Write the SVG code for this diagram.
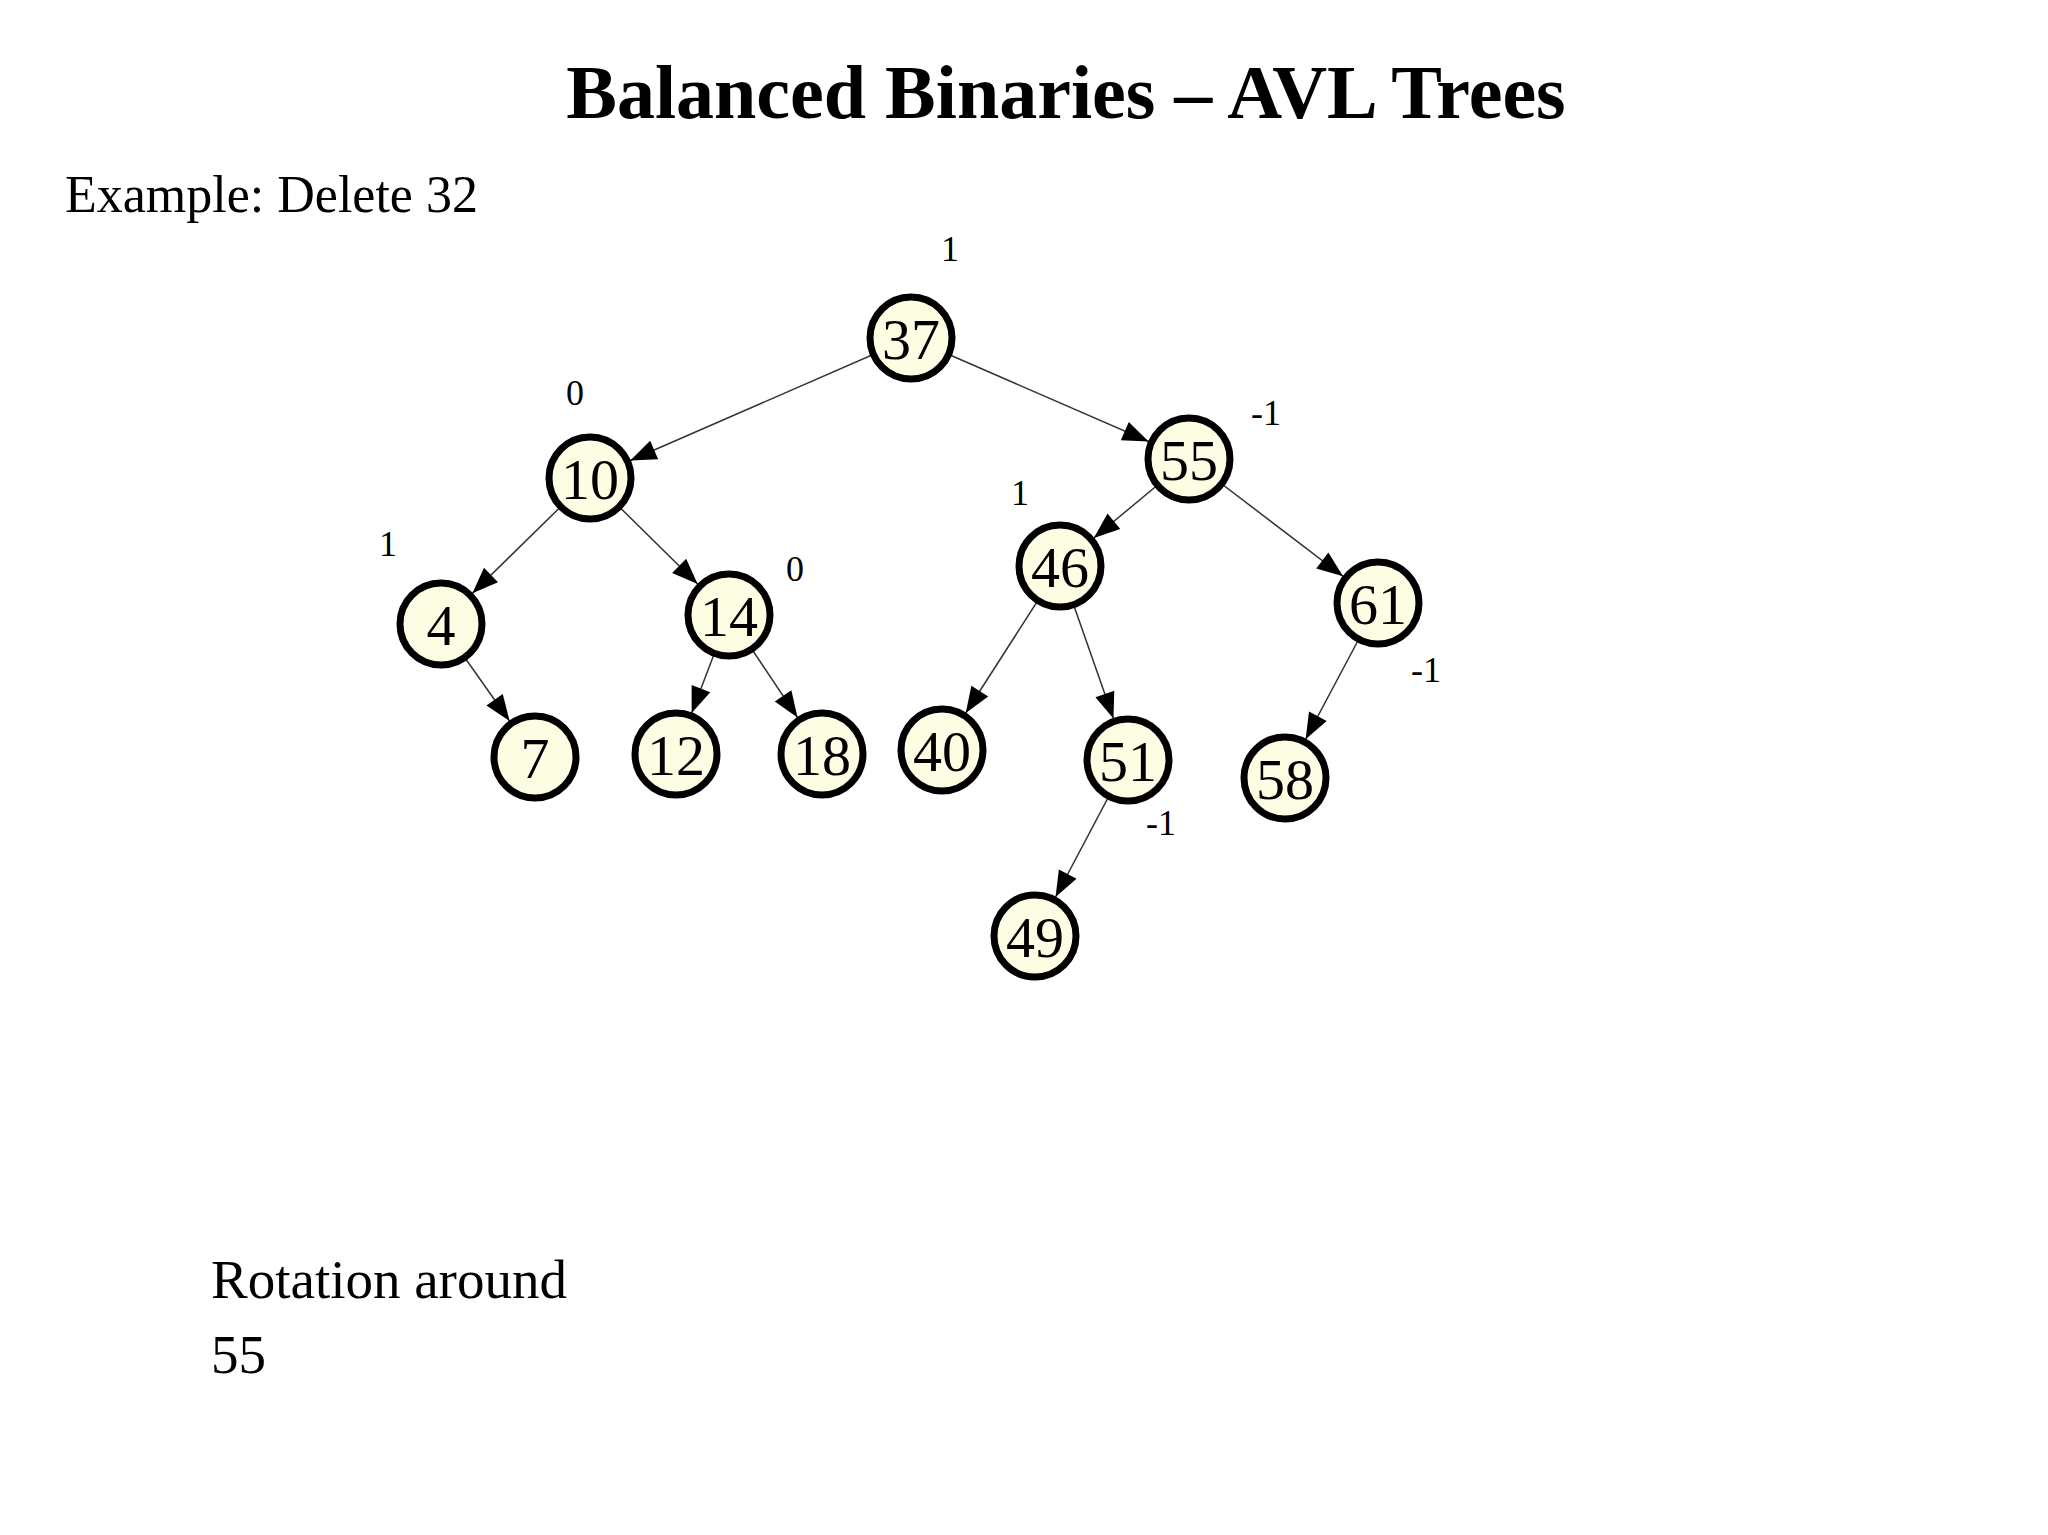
<svg xmlns="http://www.w3.org/2000/svg" width="2048" height="1535" viewBox="0 0 2048 1535">
<style>
text{font-family:"Liberation Serif","Times New Roman",serif;fill:#000}
.n circle{fill:#fdfde3;stroke:#000;stroke-width:7}
.n text{font-size:58px;text-anchor:middle}
.b{font-size:36px;text-anchor:middle}
#edges line{stroke:#333;stroke-width:1.5}
</style>
<defs>
<marker id="a" markerUnits="userSpaceOnUse" markerWidth="100" markerHeight="30" refX="70" refY="10" orient="auto" overflow="visible">
<path d="M0,0 L26,10 L0,20 z" fill="#000"/>
</marker>
</defs>
<rect width="2048" height="1535" fill="#fff"/>
<text x="1066" y="118" font-size="76" font-weight="bold" text-anchor="middle">Balanced Binaries – AVL Trees</text>
<text x="65" y="212" font-size="52">Example: Delete 32</text>
<text x="211" y="1298" font-size="55">Rotation around</text>
<text x="211" y="1373" font-size="55">55</text>
<g id="edges" marker-end="url(#a)">
<line x1="911" y1="338" x2="590" y2="478"/>
<line x1="911" y1="338" x2="1189" y2="459"/>
<line x1="590" y1="478" x2="441" y2="624"/>
<line x1="590" y1="478" x2="729" y2="615"/>
<line x1="441" y1="624" x2="535" y2="757"/>
<line x1="729" y1="615" x2="676" y2="754"/>
<line x1="729" y1="615" x2="822" y2="754"/>
<line x1="1189" y1="459" x2="1060" y2="566"/>
<line x1="1189" y1="459" x2="1378" y2="603"/>
<line x1="1060" y1="566" x2="942" y2="750"/>
<line x1="1060" y1="566" x2="1128" y2="760"/>
<line x1="1378" y1="603" x2="1285" y2="778"/>
<line x1="1128" y1="760" x2="1035" y2="936"/>
</g>
<g id="n37" class="n"><circle cx="911" cy="338" r="41"/><text x="911" y="359">37</text></g>
<g id="n10" class="n"><circle cx="590" cy="478" r="41"/><text x="590" y="499">10</text></g>
<g id="n55" class="n"><circle cx="1189" cy="459" r="41"/><text x="1189" y="480">55</text></g>
<g id="n4" class="n"><circle cx="441" cy="624" r="41"/><text x="441" y="645">4</text></g>
<g id="n14" class="n"><circle cx="729" cy="615" r="41"/><text x="729" y="636">14</text></g>
<g id="n46" class="n"><circle cx="1060" cy="566" r="41"/><text x="1060" y="587">46</text></g>
<g id="n61" class="n"><circle cx="1378" cy="603" r="41"/><text x="1378" y="624">61</text></g>
<g id="n7" class="n"><circle cx="535" cy="757" r="41"/><text x="535" y="778">7</text></g>
<g id="n12" class="n"><circle cx="676" cy="754" r="41"/><text x="676" y="775">12</text></g>
<g id="n18" class="n"><circle cx="822" cy="754" r="41"/><text x="822" y="775">18</text></g>
<g id="n40" class="n"><circle cx="942" cy="750" r="41"/><text x="942" y="771">40</text></g>
<g id="n51" class="n"><circle cx="1128" cy="760" r="41"/><text x="1128" y="781">51</text></g>
<g id="n58" class="n"><circle cx="1285" cy="778" r="41"/><text x="1285" y="799">58</text></g>
<g id="n49" class="n"><circle cx="1035" cy="936" r="41"/><text x="1035" y="957">49</text></g>
<g id="bal">
<text class="b" x="950" y="261">1</text>
<text class="b" x="575" y="405">0</text>
<text class="b" x="1266" y="425">-1</text>
<text class="b" x="1020" y="505">1</text>
<text class="b" x="388" y="556">1</text>
<text class="b" x="795" y="581">0</text>
<text class="b" x="1426" y="682">-1</text>
<text class="b" x="1161" y="835">-1</text>
</g>
</svg>
